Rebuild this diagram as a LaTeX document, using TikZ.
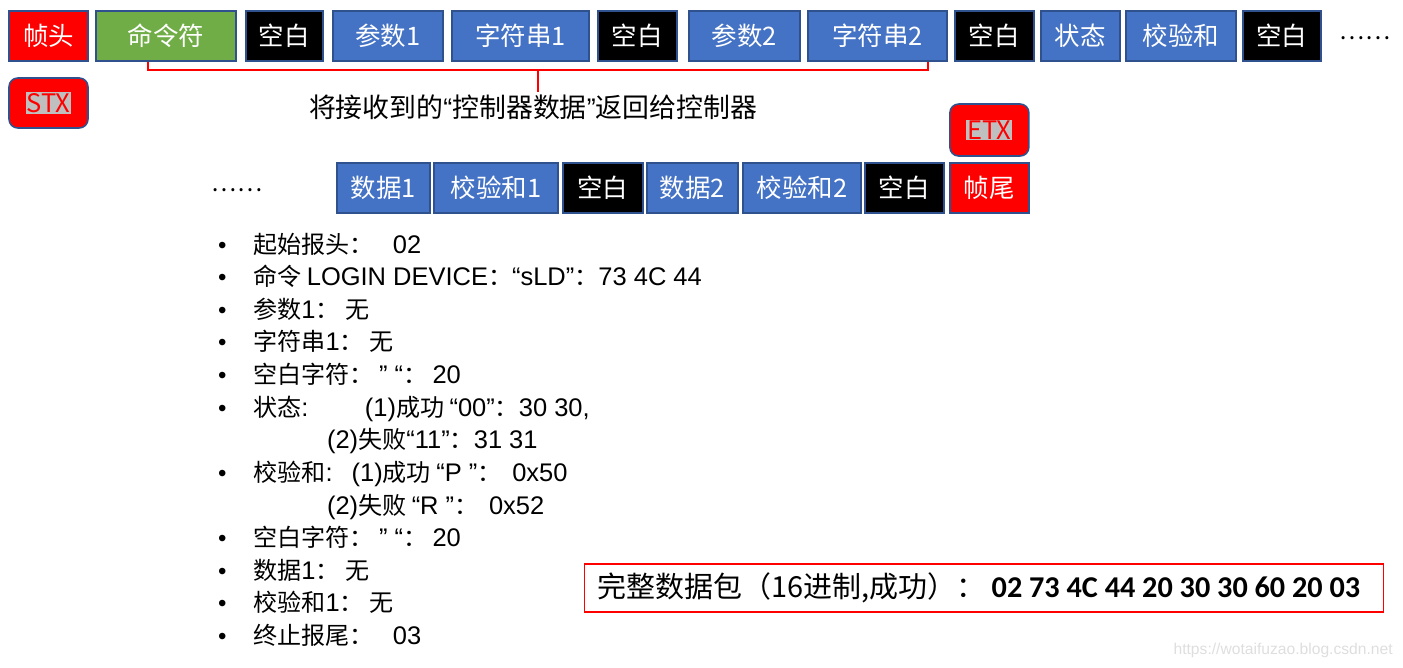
\documentclass[tikz,border=0pt]{standalone}
\usepackage{fontspec}
\setmainfont{Noto Sans CJK SC}
\newfontfamily\hexfont{Carlito}
\newfontfamily\webfont{Liberation Sans}
\usetikzlibrary{positioning}

\definecolor{fieldblue}{HTML}{4472C4}
\definecolor{frameblue}{HTML}{2F528F}
\definecolor{cmdgreen}{HTML}{70AD47}
\definecolor{markgray}{HTML}{BFBFBF}

\newcommand{\marked}[1]{{\setlength{\fboxsep}{0.5pt}\colorbox{markgray}{\textcolor{red}{#1}}}}
\newcommand{\itm}{\makebox[8pt]{\webfont •}}
\newcommand{\oqt}{{\webfont “}}
\newcommand{\cqt}{{\webfont ”}}
\newcommand{\lt}[1]{{\webfont\fontsize{14.5pt}{18.57pt}\selectfont #1}}

\begin{document}
\begin{tikzpicture}[
  x=0.02cm, y=-0.02cm,
  field/.style={rectangle, draw=frameblue, line width=0.9pt, minimum height=1cm, inner sep=0pt, outer sep=0pt, text=white, font=\fontsize{14.5pt}{17pt}\selectfont},
  headbox/.style={field, fill=red},
  cmdbox/.style={field, fill=cmdgreen},
  blankbox/.style={field, fill=black},
  databox/.style={field, fill=fieldblue},
  flagbox/.style={field, fill=red, rounded corners=5pt, minimum width=1.58cm},
  bracket/.style={red, line width=1.3pt},
  dots/.style={inner sep=0pt, font=\fontsize{13.5pt}{16pt}\selectfont}
]

\useasboundingbox (0,0) rectangle (1403,667);

% First frame row
\node[headbox, minimum width=1.58cm] (head) at (48.5,36) {帧头};
\node[cmdbox, minimum width=2.8cm, right=0.16cm of head] (cmd) {命令符};
\node[blankbox, minimum width=1.54cm, right=0.2cm of cmd] (blankA) {空白};
\node[databox, minimum width=2.2cm, right=0.2cm of blankA] (paramA) {参数1};
\node[databox, minimum width=2.74cm, right=0.18cm of paramA] (strA) {字符串1};
\node[blankbox, minimum width=1.58cm, right=0.18cm of strA] (blankB) {空白};
\node[databox, minimum width=2.22cm, right=0.24cm of blankB] (paramB) {参数2};
\node[databox, minimum width=2.78cm, right=0.16cm of paramB] (strB) {字符串2};
\node[blankbox, minimum width=1.58cm, right=0.16cm of strB] (blankC) {空白};
\node[databox, minimum width=1.58cm, right=0.14cm of blankC] (state) {状态};
\node[databox, minimum width=2.2cm, right=0.12cm of state] (check) {校验和};
\node[blankbox, minimum width=1.56cm, right=0.14cm of check] (blankD) {空白};
\node[dots] (moreA) at (1365,38) {……};

\node[flagbox, below=0.34cm of head] (stx) {\marked{STX}};

% Controller echo
\node[inner sep=1pt, font=\fontsize{15.3pt}{18pt}\selectfont] (note) at (533,107) {将接收到的\oqt 控制器数据\cqt 返回给控制器};
\coordinate (brL) at (148,62);
\coordinate (brR) at (928,62);
\coordinate (brM) at (538,70);
\draw[bracket] (brL) -- ++(0,8) -| (brR);
\draw[bracket] (brM) -- (brM |- note.north);

% Second frame row
\node[dots] (moreB) at (237,190) {……};
\node[databox, minimum width=1.86cm] (dataA) at (383.5,188) {数据1};
\node[databox, minimum width=2.48cm, right=0.08cm of dataA] (chkA) {校验和1};
\node[blankbox, minimum width=1.6cm, right=0.1cm of chkA] (blankE) {空白};
\node[databox, minimum width=1.82cm, right=0.08cm of blankE] (dataB) {数据2};
\node[databox, minimum width=2.36cm, right=0.1cm of dataB] (chkB) {校验和2};
\node[blankbox, minimum width=1.58cm, right=0.08cm of chkB] (blankF) {空白};
\node[headbox, minimum width=1.58cm, right=0.12cm of blankF] (tail) {帧尾};
\node[flagbox, minimum height=1.04cm, above=0.14cm of tail] (etx) {\marked{ETX}};

% Field list
\node[anchor=base west, inner sep=0pt, font=\fontsize{13.7pt}{18.57pt}\selectfont] (spec) at (215,253) {%
\begin{tabular}[t]{@{}l@{\hspace{13.6pt}}l@{}}
\itm & 起始报头：\hspace{11pt}\lt{02}\\
\itm & 命令 \lt{LOGIN DEVICE}：\lt{“sLD”}：\lt{73 4C 44}\\
\itm & 参数\lt{1}： 无\\
\itm & 字符串\lt{1}： 无\\
\itm & 空白字符：\ \lt{” “}：\ \lt{20}\\
\itm & \makebox[63.5pt][l]{状态\lt{:}}\lt{(1)}成功 \lt{“00”}：\lt{30 30,}\\
     & \hspace{42pt}\lt{(2)}失败\lt{“11”}：\lt{31 31}\\
\itm & \makebox[56pt][l]{校验和\lt{:}}\lt{(1)}成功 \lt{“P ”}：\ \ \lt{0x50}\\
     & \hspace{42pt}\lt{(2)}失败 \lt{“R ”}：\ \ \lt{0x52}\\
\itm & 空白字符：\ \lt{” “}：\ \lt{20}\\
\itm & 数据\lt{1}： 无\\
\itm & 校验和\lt{1}： 无\\
\itm & 终止报尾：\hspace{11pt}\lt{03}
\end{tabular}};

% Whole packet
\node[draw=red, line width=0.6pt, minimum width=16cm, minimum height=0.96cm, inner sep=0pt, font=\fontsize{16.5pt}{19pt}\selectfont] (packet) at (984,588) {\makebox[15.48cm][l]{完整数据包（16进制,成功）：\ {\hexfont\bfseries\fontsize{17.2pt}{19pt}\selectfont 02 73 4C 44 20 30 30 60 20 03}}};

\node[anchor=east, inner sep=0pt, text=black!13, font=\webfont\fontsize{8.9pt}{10pt}\selectfont] (mark) at (1393,650) {https://wotaifuzao.blog.csdn.net};

\end{tikzpicture}
\end{document}
